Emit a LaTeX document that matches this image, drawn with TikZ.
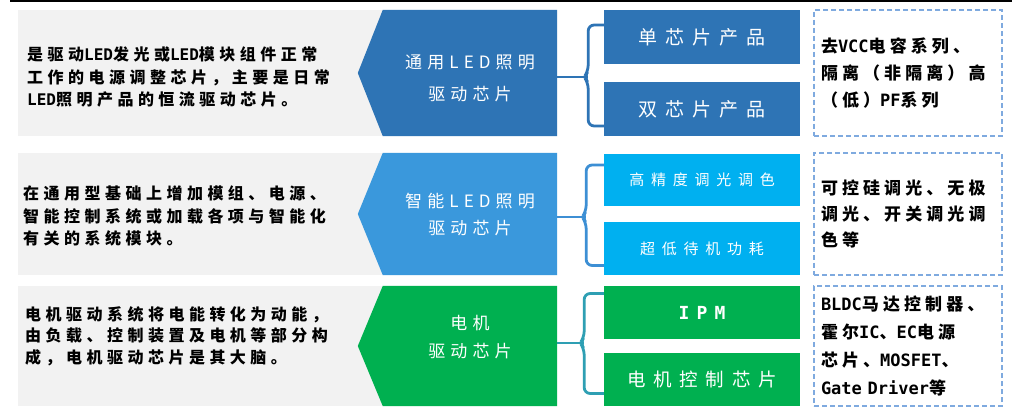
\documentclass[tikz,border=0pt]{standalone}
\usepackage{fontspec}
\setmainfont{Noto Sans CJK SC}
\newfontfamily\fGray[LetterSpace=28]{Noto Sans CJK SC}
\newfontfamily\fChev[LetterSpace=30]{Noto Sans CJK SC}
\newfontfamily\fSubA[LetterSpace=42]{Noto Sans CJK SC}
\newfontfamily\fSubB[LetterSpace=45]{Noto Sans CJK SC}
\newfontfamily\fNote[LetterSpace=24]{Noto Sans CJK SC}
\newfontfamily\fMono{DejaVu Sans Mono}
\newfontfamily\fMonoSp[LetterSpace=40]{DejaVu Sans Mono}
\usetikzlibrary{calc}
\definecolor{blueA}{HTML}{2E74B5}
\definecolor{blueB}{HTML}{3A98DC}
\definecolor{cyanB}{HTML}{00B0F0}
\definecolor{greenC}{HTML}{00B050}
\definecolor{braceB}{HTML}{3D8FD4}
\definecolor{braceC}{HTML}{2E9FB3}
\definecolor{dashc}{HTML}{7FAADF}
\definecolor{grayf}{HTML}{F2F2F2}
\newcommand{\ml}[1]{{\fMono\bfseries #1}}
\begin{document}
\begin{tikzpicture}[x=1pt,y=-1pt,
  gtext/.style={anchor=west, align=left, inner sep=0pt, text=black,
    font=\fGray\bfseries\fontsize{16}{22.5}\selectfont},
  chevbox/.style={minimum width=174pt, inner sep=0pt},
  ctext/.style={inner sep=0pt, align=center, text=white},
  sub/.style={minimum width=196pt, inner sep=0pt, text=white, align=center},
  note/.style={draw=dashc, line width=1.2pt, dash pattern=on 5pt off 3pt,
    minimum width=188pt, text width=174pt, inner xsep=7pt, inner ysep=0pt, align=left,
    font=\fNote\bfseries\fontsize{17}{27}\selectfont},
  brace/.style={line width=2.8pt, rounded corners=6pt},
]
\useasboundingbox (0,0) rectangle (1031,414);
\fill[white] (0,0) rectangle (1031,414);
\draw[line width=2.5pt] (10,1.2) -- (1012,1.2);

% ---------- Row 1 ----------
\fill[grayf] (18,10) rectangle (390,136);
\node[chevbox, minimum height=126pt] (c1) at (470,73) {};
\fill[blueA] (c1.north west) -- ($(c1.west)+(-25,0)$) -- (c1.south west) -- (c1.south east) -- (c1.north east) -- cycle;
\node[ctext, font=\fChev\fontsize{17}{32}\selectfont] (ct1) at ($(c1.center)+(0,5)$) {通用LED照明\\驱动芯片};
\node[gtext] (t1) at (27,77) {是驱动\ml{LED}发光或\ml{LED}模块组件正常\\工作的电源调整芯片，主要是日常\\\ml{LED}照明产品的恒流驱动芯片。};
\node[sub, fill=blueA, minimum height=54pt, font=\fSubA\fontsize{19}{19}\selectfont] (s1a) at (702,37) {单芯片产品};
\node[sub, fill=blueA, minimum height=54pt, font=\fSubA\fontsize{19}{19}\selectfont] (s1b) at (702,109) {双芯片产品};
\node[note, minimum height=126pt] (n1) at (908,73) {去\ml{VCC}电容系列、\\隔离（非隔离）高\\（低）\ml{PF}系列};
\coordinate (k1) at ($(c1.east)+(31,4)$);
\draw[brace, blueA] ($(c1.east)+(0,4)$) -- (k1);
\draw[brace, blueA] ($(s1a.west)+(0,-12)$) -| ($(k1)+(0,-6)$) -- ($(k1)+(-4,0)$) -- ($(k1)+(0,6)$) |- ($(s1b.west)+(0,17)$);

% ---------- Row 2 ----------
\fill[grayf] (18,153) rectangle (390,275);
\node[chevbox, minimum height=122pt] (c2) at (470,214) {};
\fill[blueB] (c2.north west) -- ($(c2.west)+(-25,0)$) -- (c2.south west) -- (c2.south east) -- (c2.north east) -- cycle;
\node[ctext, font=\fChev\fontsize{17}{27}\selectfont] (ct2) at ($(c2.center)+(0,1)$) {智能LED照明\\驱动芯片};
\node[gtext] (t2) at (23,216) {在通用型基础上增加模组、电源、\\智能控制系统或加载各项与智能化\\有关的系统模块。};
\node[sub, fill=cyanB, minimum height=52pt, font=\fSubB\fontsize{15}{15}\selectfont] (s2a) at (702,180) {高精度调光调色};
\node[sub, fill=cyanB, minimum height=53pt, font=\fSubB\fontsize{15}{15}\selectfont] (s2b) at (702,248.5) {超低待机功耗};
\node[note, minimum height=122pt, font=\fNote\bfseries\fontsize{17}{26}\selectfont] (n2) at (908,214) {可控硅调光、无极\\调光、开关调光调\\色等};
\coordinate (k2) at ($(c2.east)+(29,3)$);
\draw[brace, braceB] ($(c2.east)+(0,3)$) -- (k2);
\draw[brace, braceB] ($(s2a.west)+(0,-15)$) -| ($(k2)+(0,-6)$) -- ($(k2)+(-4,0)$) -- ($(k2)+(0,6)$) |- ($(s2b.west)+(0,17)$);

% ---------- Row 3 ----------
\fill[grayf] (18,286) rectangle (390,406);
\node[chevbox, minimum height=120pt] (c3) at (470,346) {};
\fill[greenC] (c3.north west) -- ($(c3.west)+(-25,0)$) -- (c3.south west) -- (c3.south east) -- (c3.north east) -- cycle;
\node[ctext, font=\fChev\fontsize{17}{28}\selectfont] (ct3) at ($(c3.center)+(0,-9)$) {电机\\驱动芯片};
\node[gtext, font=\fGray\bfseries\fontsize{16}{21.5}\selectfont] (t3) at (25,336) {电机驱动系统将电能转化为动能，\\由负载、控制装置及电机等部分构\\成，电机驱动芯片是其大脑。};
\node[sub, fill=greenC, minimum height=53pt, font=\fMonoSp\bfseries\fontsize{18}{18}\selectfont] (s3a) at (702,312.5) {IPM};
\node[sub, fill=greenC, minimum height=53pt, font=\fSubA\fontsize{18.5}{18.5}\selectfont] (s3b) at (702,379.5) {电机控制芯片};
\node[note, minimum height=120pt, font=\fNote\bfseries\fontsize{17}{28}\selectfont] (n3) at (908,346) {\ml{BLDC}马达控制器、\\霍尔\ml{IC}、\ml{EC}电源\\芯片、\ml{MOSFET}、\\\ml{Gate Driver}等};
\coordinate (k3) at ($(c3.east)+(27,-3)$);
\draw[brace, braceC] ($(c3.east)+(0,-3)$) -- (k3);
\draw[brace, braceC] ($(s3a.west)+(0,-19)$) -| ($(k3)+(0,-6)$) -- ($(k3)+(-4,0)$) -- ($(k3)+(0,6)$) |- ($(s3b.west)+(0,14)$);
\end{tikzpicture}
\end{document}
